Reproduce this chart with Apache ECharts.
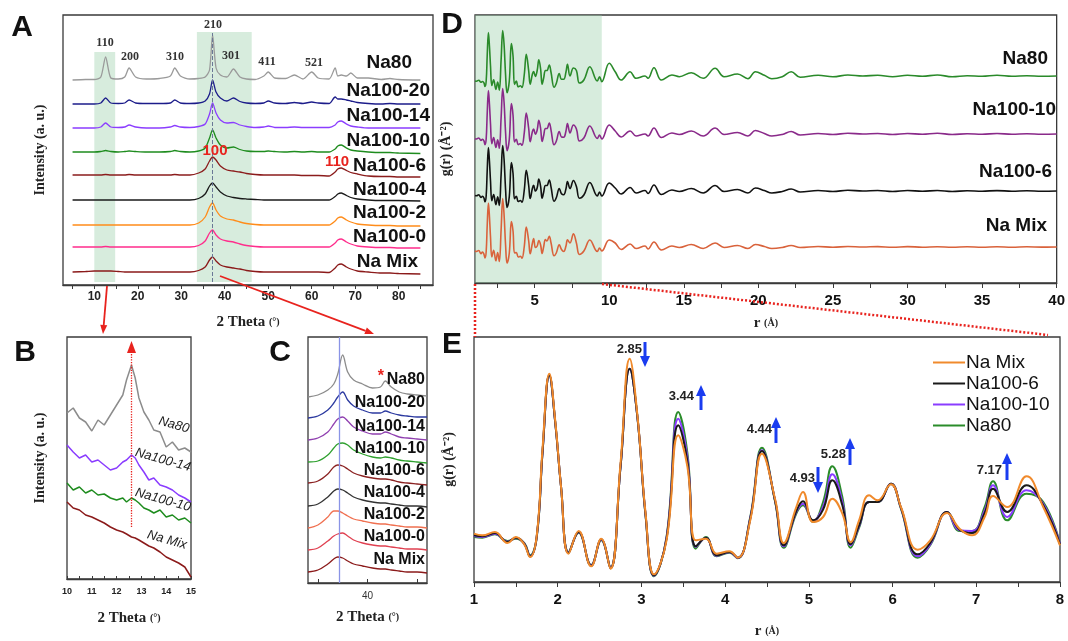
<!DOCTYPE html>
<html><head><meta charset="utf-8">
<script src="https://cdn.jsdelivr.net/npm/echarts@6/dist/echarts.min.js"></script>
<style>html,body{margin:0;padding:0;background:#fff}#c{width:1068px;height:641px}</style>
</head><body><div id="c"></div>
<script>
// ---------------- Panel A : XRD (2 Theta) ----------------
const A_x = [5,8,10,11.5,12.6,13.8,15.5,17,18,19.5,22,25,27.5,28.5,29.8,32,34,35.5,36.5,37.2,38,39,40.5,42,43.5,45,47,49,50,51.5,54,56,58,60,61.5,64,65.4,66,66.8,68,69,70.5,73,76,78,80,85];
const A_names = ['Na80','Na100-20','Na100-14','Na100-10','Na100-6','Na100-4','Na100-2','Na100-0','Na Mix'];
const A_Na80    = [0,0.5,0.5,3,23,2,1,3,12,3, 1,1.5,4,12,4, 1,1.5,3,10,45, 12,5,3,11,3, 1,0.5,4,8,2, 1.5,5,1,8,2, 1,12,4,5,4, 7,2,2,0.5,1.5, 0.5,0];
const A_Na100_20 = [0,0,0,1,6,1,0.5,1,4,1, 0.5,0.5,1,4,1, 0.5,1,3,10,24, 12,6,3,6,2.5, 1,0.5,1,3,1, 0.5,1.5,0.5,2,1, 0.5,7,5,5,4, 3,1.5,0.5,0,0.5, 0,0];
const A_Na100_14 = [0,0,0,1,5,1,0.5,1,3,1, 0,0,1,2.5,1, 0.5,1.5,4,14,25, 15,8,5,5.5,3, 1.5,0.5,1,2,0.5, 0.5,1,0.5,0.5,0.5, 0.5,3,6,7,4, 2,1,0,0,0, 0,0];
const A_Na100_10 = [0,0,0,0.5,1.5,0.5,0,0.5,1,0.5, 0,0,0.5,1.5,0.5, 0,1,4,14,22, 14,7,4,5,2.5, 1,0.5,0.5,1,0.5, 0,0.5,0,0.5,0, 0,3,6,7,4, 2,1,0,-0.5,-0.5, -1,-1.5];
const A_Na100_6 = [0,0,0,0,0.5,0,0,0,0.5,0, 0,0,0,0.5,0, 0,2,6,14,18, 15,9,5,4,3, 1.5,0.5,0,0,0, 0,0,-0.5,-0.5,-0.5, -1,3,6,7,4.5, 2.5,1,-1,-1.5,-1.5, -2,-2];
const A_Na100_4 = [0,0,0,0,0,0,0,0,0,0, 0,0,0,0,0, 0,1.5,6,14,17, 13,8,4,2.5,1.5, 1,0.5,0,0,0, 0,0,0,0,0, 0,3.5,6,7,4.5, 2.5,1,0,-0.5,-0.5, -0.5,-1];
const A_Na100_2 = [0,0,0,0,0,0,0,0,0,0, 0,0,0,0,0, 0,2,8,18,22, 15,9,6,5,3, 1.5,0.5,0,0,0, 0,0,0,0,0, 0,4,7,8,5, 3,1,0,-0.5,-0.5, -1,-1];
const A_Na100_0 = [0,0,0,0,0.5,0,0,0,0,0, 0,0,0,0,0, 0,1.5,6,14,17, 12,8,6,5,3, 1.5,0.5,0,0,0, 0,0,0,0,0, 0,4,7,8,5, 3,1,0,-0.5,-0.5, -1,-1];
const A_NaMix   = [0,0.5,1,1,1,1,0.5,0,0,0, 0,0,0,0,0, 0,1.5,5,12,15, 11,7,5,4,3, 1.5,0.5,0,0,0, 0,0,0,0,0, -0.5,4,7,8,5, 3,1,0,-1,-1, -1.5,-2];
const A_tickLabels = [10,20,30,40,50,60,70,80];
const A_ticks = [5,10,15,20,25,30,35,40,45,50,55,60,65,70,75,80,85];

// ---------------- Panel B : 10-15 deg ----------------
const B_x = [10,10.25,10.5,10.75,11,11.25,11.5,11.75,12,12.25,12.4,12.6,12.75,12.9,13.1,13.3,13.5,13.75,14,14.25,14.5,14.75,15];
const B_names = ['Na80','Na100-14','Na100-10','Na Mix'];
const B_Na80     = [166,171,161,157,148,159,154,164,174,184,199,214,201,181,167,159,149,147,132,137,129,131,127];
const B_Na100_14 = [134,127,121,124,117,119,114,109,111,117,119,124,121,114,107,99,101,94,92,89,84,81,77];
const B_Na100_10 = [96,89,92,86,89,84,85,81,79,81,77,81,79,76,71,69,66,69,62,64,59,61,56];
const B_NaMix    = [77,71,69,64,62,59,56,52,49,47,45,42,41,39,36,33,31,27,22,19,16,12,2];

// ---------------- Panel C : 34-46 deg ----------------
const C_x = [34,35,36,36.6,37.0,37.5,38.0,38.6,39.5,40.5,41.3,41.8,42.4,43.2,44,45,46];
const C_names = ['Na80','Na100-20','Na100-14','Na100-10','Na100-6','Na100-4','Na100-2','Na100-0','Na Mix'];
const C_Na80     = [186,188,193,199,209,228,211,203,199,195,196,202,196,191,189,188,187];
const C_Na100_20 = [165,167,173,180,186,191,183,177,173,170,170,172,170,168,167,166,166];
const C_Na100_14 = [143,145,151,159,164,166,162,156,152,149,149,151,149,146,145,144,143];
const C_Na100_10 = [121,122,128,135,139,140,138,133,129,126,125,126,125,123,122,121,120];
const C_Na100_6  = [100,102,109,116,118,117,114,110,107,105,104,104,103,101,100,99,98];
const C_Na100_4  = [77,79,86,92,94,93,90,86,83,81,80,80,79,78,77,77,76];
const C_Na100_2  = [55,58,66,72,72,70,67,64,62,60,59,59,58,57,56,56,55];
const C_Na100_0  = [33,35,42,47,49,50,47,43,40,38,37,37,36,35,34,34,33];
const C_NaMix    = [11,13,19,24,26,25,22,19,17,15,14,14,13,12,11,11,10];

// ---------------- Panels D/E : g(r) ----------------
const E_r = [1.0,1.1,1.25,1.4,1.5,1.6,1.67,1.75,1.82,1.9,1.97,2.04,2.13,2.25,2.4,2.52,2.63,2.75,2.86,2.95,3.05,3.15,3.3,3.44,3.55,3.65,3.77,3.9,4.05,4.15,4.3,4.44,4.6,4.7,4.85,4.93,5.05,5.17,5.28,5.4,5.5,5.6,5.72,5.82,5.98,6.1,6.3,6.45,6.65,6.8,6.95,7.1,7.2,7.37,7.6,7.8,8.0];
const G_NaMix   = [16.0,15.5,16.5,13.2,15.0, 12.8,9.0,15.5,42,64, 50,30,10,16.8,6.2, 14.5,5.5,37,68.5,52, 22,3.8,14,45.5,36, 14,14.5,10,10.7,8.8, 20,40,26,13.2,24, 28.5,19.5,21,26.5,22, 13.5,20,27.5,26,30.8, 24,11.2,14,22.2,17.5, 15.5,21,27.3,24,33.2, 24,12.5];
const G_Na100_6 = [15.5,15.2,16.2,13.5,14.8, 13.0,9.2,15.3,41,63.5, 49.5,30,10.2,16.5,6.4, 14.3,5.6,36,65.5,51.5, 21.5,3.5,14.5,48.5,37.5, 12.2,14.8,9.5,10.5,8.8, 20.5,40.8,25.5,12.5,22.8, 25.7,20,23.2,32,24.5, 12.8,18.5,25.5,25.5,31, 23.8,9.8,13.2,22.5,17.2, 16.2,22.2,29.5,22.5,30.5, 24.5,12.8];
const G_Na100_10= [15.3,15.0,16.0,13.6,14.7, 13.1,9.3,15.2,41,63.5, 49.5,30,10.3,16.4,6.5, 14.2,5.7,36,65.5,51.5, 21.5,3.4,14.8,50.5,38.8, 12,14.8,9.4,10.4,8.7, 20.7,41,25.5,12.2,22.5, 25,19.8,24,33.8,25.5, 12.5,18.2,25.5,25.5,31, 23.7,9.2,12.8,22.5,17, 16.8,23,30.5,21,29, 25,13];
const G_Na80    = [15.0,14.8,15.8,13.8,14.5, 13.2,9.5,15.0,41,63.5, 49.5,30,10.5,16.3,6.6, 14.0,5.8,36,65.5,51.5, 21.2,3.2,15,52.5,40, 11.5,15,9.2,10.3,8.6, 21,41.8,25.2,11.8,22, 24.5,19.5,25.5,36.2,27, 11.8,17.8,25.5,25.5,31, 23.5,8.8,12.5,22.5,16.8, 16.8,24,31.7,20,28, 25.5,13];
// long-range tails (panel D, r > 8)
const T_r = [8.3,8.7,9.2,9.35,9.5,10.0,10.4,10.8,11.4,11.8,12.4,12.6,13.0,13.5,14.2,14.7,15.5,16.3,17.1,17.7,18.6,19.3,19.8,20.4,20.9,21.6,22.2,22.8,24,25,26,27,28,29,30,31,32,33,34,35,36,37,38,39,40];
const T_Na80     = [16,29.3,15,19.3,14.3,32.7,24.3,16,24.3,17.7,20,17.7,28.3,16,21,19.3,23.3,17.7,27.7,19.3,22,17.3,24.3,20.7,17.3,19.3,24.3,18.7,20.7,19.3,21,20,20.7,19.3,20.7,19.7,21,19.3,20.3,19.7,20.7,19.7,20.3,19.7,20];
const T_Na100_10 = [16,28,15.5,19,15,29,23,17,23,18,20,18,26,16.5,21,19.5,23,18,26,19.5,21.5,18,23.5,20.5,18,19.5,22.5,19,20.5,19.5,20.7,20,20.5,19.5,20.5,19.7,20.7,19.5,20.3,19.7,20.5,19.8,20.3,19.8,20];
const T_Na100_6  = [16,28.5,15,19,15,28,23,17,23.5,18,20.5,17.5,26,16.5,21,19.5,22.5,18,25.5,19.5,21.5,18,23,20.5,18,19.5,22,19,20.5,19.5,20.7,20,20.5,19.5,20.5,19.7,20.5,19.5,20.3,19.8,20.4,19.8,20.2,19.8,20];
const T_NaMix    = [16,27,15.5,19,16,27,24,17.5,23,18.5,21,18,25,17,21,19.5,22.5,18.5,24,19.5,21.5,18.5,22.5,20.5,18.5,19.5,21.5,19.5,20.5,19.7,20.5,20,20.4,19.7,20.4,19.8,20.3,19.7,20.2,19.8,20.3,19.8,20.2,19.9,20];
const D_names = ['Na80','Na100-10','Na100-6','Na Mix'];
const E_legend = ['Na Mix','Na100-6','Na100-10','Na80'];

// ---------------- styling ----------------
const SANS = '"Liberation Sans", Arial, sans-serif';
const SERIF = '"Liberation Serif", "Times New Roman", serif';
const A_colors = ['#9a9a9a','#1c1c8a','#8b3dff','#1e8c1e','#8b1c1c','#1a1a1a','#ff8c1a','#ff2d8c','#8b1a1a'];
const A_offset = [205,181,157,133,110,85,60,38,13];
const B_colors = ['#8c8c8c','#8a3cff','#1e8c1e','#8b1a1a'];
const C_colors = ['#8c8c8c','#2c3aa0','#9040b0','#2ea02e','#8b2222','#333333','#f07050','#e04050','#8b1a1a'];
const D_colors = ['#2a8a2a','#8a2a8a','#111111','#d9623b'];
const D_offset = [187,129,72,16];
const E_colors = {'Na Mix':'#f08a2c','Na100-6':'#1a1a1a','Na100-10':'#8a3cff','Na80':'#2a8c2a'};

const A_vals = [A_Na80,A_Na100_20,A_Na100_14,A_Na100_10,A_Na100_6,A_Na100_4,A_Na100_2,A_Na100_0,A_NaMix];
const B_vals = [B_Na80,B_Na100_14,B_Na100_10,B_NaMix];
const C_vals = [C_Na80,C_Na100_20,C_Na100_14,C_Na100_10,C_Na100_6,C_Na100_4,C_Na100_2,C_Na100_0,C_NaMix];
const G_vals = {'Na80':G_Na80,'Na100-10':G_Na100_10,'Na100-6':G_Na100_6,'Na Mix':G_NaMix};
const T_vals = {'Na80':T_Na80,'Na100-10':T_Na100_10,'Na100-6':T_Na100_6,'Na Mix':T_NaMix};

function range(a,b,s){const o=[];for(let v=a;v<=b+1e-9;v+=s)o.push(+v.toFixed(3));return o;}

const grids = [
  {left:63, top:15, width:370, height:270},
  {left:67, top:337, width:124, height:242},
  {left:308, top:337, width:119, height:246},
  {left:475, top:15, width:583, height:268},
  {left:474, top:337, width:586, height:245}
].map(g=>Object.assign({show:true, borderColor:'#3a3a3a', borderWidth:1.3, backgroundColor:'transparent'}, g));

const axisNameStyle = {fontFamily:SERIF, fontWeight:'bold', fontSize:15, color:'#222', rich:{s:{fontFamily:SERIF, fontWeight:'bold', fontSize:10, color:'#222'}}};
function xAx(gi, min, max, ticks, labels, opts){
  return Object.assign({
    type:'value', gridIndex:gi, min:min, max:max,
    axisLine:{show:true, onZero:false, lineStyle:{color:'#3a3a3a', width:1.3}},
    axisTick:{show:true, customValues:ticks, inside:false, length:4, lineStyle:{color:'#3a3a3a'}},
    axisLabel:{show:true, customValues:labels, fontFamily:SANS, fontWeight:'bold', fontSize:12, color:'#222', margin:6},
    splitLine:{show:false},
    nameLocation:'middle', nameTextStyle:axisNameStyle
  }, opts||{});
}
function yAx(gi, min, max, name, gap, nameSize){
  return {type:'value', gridIndex:gi, min:min, max:max,
    axisLine:{show:false}, axisTick:{show:false}, axisLabel:{show:false}, splitLine:{show:false},
    name:name, nameLocation:'middle', nameGap:gap, nameRotate:90,
    nameTextStyle:Object.assign({}, axisNameStyle, {fontSize:nameSize||14})};
}

const xAxes = [
  xAx(0, 2.8, 87.9, A_ticks, A_tickLabels, {name:'2 Theta {s|(°)}', nameGap:30}),
  xAx(1, 10, 15, range(10,15,0.5), [10,11,12,13,14,15], {name:'2 Theta {s|(°)}', nameGap:32,
      axisTick:{show:true, customValues:range(10,15,0.5), inside:true, length:3, lineStyle:{color:'#3a3a3a'}},
      axisLabel:{show:true, customValues:[10,11,12,13,14,15], fontFamily:SANS, fontWeight:'bold', fontSize:9, color:'#222', margin:8}}),
  xAx(2, 34, 46, [35,40,45], [40], {name:'2 Theta {s|(°)}', nameGap:27,
      axisTick:{show:true, customValues:[35,40,45], inside:true, length:4, lineStyle:{color:'#3a3a3a'}},
      axisLabel:{show:true, customValues:[40], fontFamily:SANS, fontSize:10, color:'#333', margin:8}}),
  xAx(3, 1, 40, range(2.5,40,2.5), range(5,40,5), {name:'r {s|(Å)}', nameGap:33,
      axisTick:{show:true, customValues:range(2.5,40,2.5), inside:false, length:5, lineStyle:{color:'#3a3a3a'}},
      axisLabel:{show:true, customValues:range(5,40,5), fontFamily:SANS, fontWeight:'bold', fontSize:15, color:'#111', margin:10}}),
  xAx(4, 1, 8, range(1,8,0.5), range(1,8,1), {name:'r {s|(Å)}', nameGap:42,
      axisTick:{show:true, customValues:range(1,8,0.5), inside:false, length:5, lineStyle:{color:'#3a3a3a'}},
      axisLabel:{show:true, customValues:range(1,8,1), fontFamily:SANS, fontWeight:'bold', fontSize:15, color:'#111', margin:10}})
];
const yAxes = [
  yAx(0, 0, 270, 'Intensity (a. u.)', 16, 14),
  yAx(1, 0, 242, 'Intensity (a. u.)', 20, 14),
  yAx(2, 0, 246, '', 10),
  yAx(3, 0, 268, 'g(r) (Å⁻²)', 22, 14),
  yAx(4, 1.5, 75, 'g(r) (Å⁻²)', 18, 14)
];

const series = [];
// E series first (legend picks colours from them); Na Mix drawn last (on top)
['Na80','Na100-10','Na100-6','Na Mix'].forEach(n=>{
  series.push({name:n, type:'line', xAxisIndex:4, yAxisIndex:4, symbol:'none', smooth:0.45,
    lineStyle:{width:2, color:E_colors[n]}, itemStyle:{color:E_colors[n]},
    data:E_r.map((r,i)=>[r, G_vals[n][i]]), z:3});
});
// D
D_names.forEach((n,k)=>{
  const d = E_r.map((r,i)=>[r, G_vals[n][i]+D_offset[k]]).concat(T_r.map((r,i)=>[r, T_vals[n][i]+D_offset[k]]));
  const s = {name:'D '+n, type:'line', xAxisIndex:3, yAxisIndex:3, symbol:'none', smooth:0.4,
    lineStyle:{width:1.6, color:D_colors[k]}, data:d, z:3};
  if(k===0){ s.markArea = {silent:true, itemStyle:{color:'rgba(150,205,165,0.38)'}, data:[[{xAxis:1,yAxis:0},{xAxis:9.5,yAxis:268}]]}; }
  series.push(s);
});
// A
A_names.forEach((n,k)=>{
  const s = {name:'A '+n, type:'line', xAxisIndex:0, yAxisIndex:0, symbol:'none', smooth:0.25,
    lineStyle:{width:1.3, color:A_colors[k]}, data:A_x.map((x,i)=>[x, A_vals[k][i]+A_offset[k]]), z:3};
  if(k===0){
    s.markArea = {silent:true, itemStyle:{color:'rgba(150,205,165,0.38)'},
      data:[[{xAxis:10,yAxis:3},{xAxis:14.8,yAxis:233}],[{xAxis:33.6,yAxis:3},{xAxis:46.2,yAxis:253}]]};
    s.markLine = {silent:true, symbol:'none', label:{show:false}, lineStyle:{color:'#6a7896', type:'dashed', width:1},
      data:[[{coord:[37.2,3]},{coord:[37.2,252]}]]};
  }
  series.push(s);
});
// B
B_names.forEach((n,k)=>{
  const s = {name:'B '+n, type:'line', xAxisIndex:1, yAxisIndex:1, symbol:'none', smooth:false,
    lineStyle:{width:1.5, color:B_colors[k]}, data:B_x.map((x,i)=>[x, B_vals[k][i]]), z:3};
  if(k===0){
    s.markLine = {silent:true, symbol:['none','triangle'], symbolSize:[9,12], label:{show:false},
      lineStyle:{color:'#e8231e', type:'dotted', width:1.3},
      data:[[{coord:[12.6,52]},{coord:[12.6,232]}]]};
  }
  series.push(s);
});
// C
C_names.forEach((n,k)=>{
  const s = {name:'C '+n, type:'line', xAxisIndex:2, yAxisIndex:2, symbol:'none', smooth:0.35,
    lineStyle:{width:1.3, color:C_colors[k]}, data:C_x.map((x,i)=>[x, C_vals[k][i]]), z:3};
  if(k===0){
    s.markLine = {silent:true, symbol:'none', label:{show:false}, lineStyle:{color:'#8a94e6', type:'solid', width:1.3},
      data:[[{coord:[37.2,0]},{coord:[37.2,246]}]]};
  }
  series.push(s);
});

// ---------------- annotations ----------------
const G = [];
function txt(x,y,t,font,fill,align,extra){
  G.push(Object.assign({type:'text', x:x, y:y, z:20, style:{text:t, font:font, fill:fill||'#111', align:align||'center', verticalAlign:'middle'}}, extra||{}));
}
function arrow(x1,y1,x2,y2,color,w,hl,hw,dash){
  const dx=x2-x1, dy=y2-y1, L=Math.hypot(dx,dy), ux=dx/L, uy=dy/L;
  const bx=x2-ux*hl, by=y2-uy*hl;
  G.push({type:'line', z:20, shape:{x1:x1,y1:y1,x2:bx,y2:by}, style:{stroke:color, lineWidth:w, lineDash:dash||null}});
  G.push({type:'polygon', z:20, shape:{points:[[x2,y2],[bx-uy*hw/2,by+ux*hw/2],[bx+uy*hw/2,by-ux*hw/2]]}, style:{fill:color}});
}
function seg(x1,y1,x2,y2,color,w,dash){
  G.push({type:'line', z:20, shape:{x1:x1,y1:y1,x2:x2,y2:y2}, style:{stroke:color, lineWidth:w, lineDash:dash||null}});
}
// panel letters
const LET = 'bold 30px '+SANS;
txt(22,28,'A',LET); txt(25,353,'B',LET); txt(280,353,'C',LET); txt(452,25,'D',LET); txt(452,345,'E',LET);
// A peak indices
const PK = 'bold 12px '+SERIF;
[['110',105,43],['200',130,57],['310',175,57],['210',213,25],['301',231,56],['411',267,62],['521',314,63]].forEach(p=>txt(p[1],p[2],p[0],PK,'#333'));
txt(215,151,'100','bold 15px '+SANS,'#e8231e');
txt(337,162,'110','bold 15px '+SANS,'#e8231e');
// A curve labels
const AL = 'bold 19px '+SANS;
[[412,63],[430,91],[430,116],[430,141],[426,166],[426,190],[426,213],[426,237],[418,262]].forEach((p,k)=>txt(p[0],p[1],A_names[k],AL,'#111','right'));
// B labels (rotated italic)
[[174,425],[163,460],[163,500],[167,540]].forEach((p,k)=>txt(p[0],p[1],B_names[k],'italic 13px '+SANS,'#222','center',{rotation:-0.27}));
// C labels
const CL = 'bold 16px '+SANS;
[380,403,427,449,471,493,515,537,560].forEach((y,k)=>txt(425,y,C_names[k],CL,'#111','right'));
txt(384,377,'*','bold 16px '+SANS,'#e8231e','right');
// D labels
const DL = 'bold 19px '+SANS;
[[1048,59],[1056,110],[1052,172],[1047,226]].forEach((p,k)=>txt(p[0],p[1],D_names[k],DL,'#111','right'));
// E peak labels + blue arrows
const EL = 'bold 13px '+SANS;
const BLUE = '#1a3cf0';
[['2.85',642,349],['3.44',694,396],['4.44',772,429],['4.93',815,478],['5.28',846,454],['7.17',1002,470]].forEach(p=>txt(p[1],p[2],p[0],EL,'#222','right'));
arrow(645,342,645,367,BLUE,3,11,10);
arrow(701,410,701,385,BLUE,3,11,10);
arrow(776,443,776,417,BLUE,3,11,10);
arrow(818,467,818,493,BLUE,3,11,10);
arrow(850,465,850,438,BLUE,3,11,10);
arrow(1007,480,1007,453,BLUE,3,11,10);
// red arrows A -> B, A -> C
arrow(107,286,103,334,'#e8231e',1.8,9,7);
arrow(220,276,374,334,'#e8231e',1.8,9,7);
// red dotted connectors D -> E
seg(475,284,475,337,'#e8231e',2.5,[2,2]);
seg(602,284,1048,335,'#e8231e',2.5,[2,2]);

const chart = echarts.init(document.getElementById('c'), null, {renderer:'canvas'});
chart.setOption({
  animation:false,
  backgroundColor:'#ffffff',
  grid:grids, xAxis:xAxes, yAxis:yAxes, series:series,
  legend:{data:E_legend, orient:'vertical', left:928, top:348, icon:'rect', itemWidth:32, itemHeight:2, itemGap:2,
    textStyle:{fontFamily:SANS, fontSize:19, color:'#111', padding:[0,0,0,-4]}, selectedMode:false},
  graphic:G
});
</script></body></html>
